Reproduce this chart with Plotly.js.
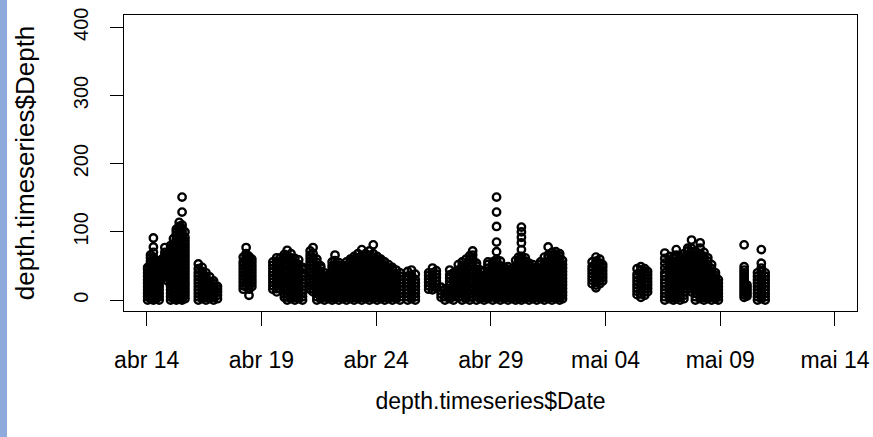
<!DOCTYPE html>
<html>
<head>
<meta charset="utf-8">
<script src="https://cdn.plot.ly/plotly-3.0.1.min.js"></script>
<style>
  html, body { margin: 0; padding: 0; background: #ffffff; }
  #chart { width: 873px; height: 437px; }
</style>
</head>
<body>
<div id="chart"></div>
<script>
// Sample times (one per column of readings) and the depths recorded at each
const sampleTimes = [
  "2020-04-14 01:00","2020-04-14 04:00","2020-04-14 07:00","2020-04-14 10:00","2020-04-14 13:00","2020-04-14 16:00",
  "2020-04-14 19:00","2020-04-14 22:00","2020-04-15 01:00","2020-04-15 04:00","2020-04-15 07:00","2020-04-15 10:00","2020-04-15 13:00","2020-04-15 16:00",
  "2020-04-16 06:00","2020-04-16 10:00","2020-04-16 14:00","2020-04-16 18:00","2020-04-16 22:00","2020-04-17 02:00",
  "2020-04-18 05:00","2020-04-18 08:00","2020-04-18 11:00","2020-04-18 14:00",
  "2020-04-19 12:00","2020-04-19 16:00","2020-04-19 20:00","2020-04-20 00:00","2020-04-20 03:00","2020-04-20 07:00","2020-04-20 11:00","2020-04-20 15:00","2020-04-20 19:00",
  "2020-04-21 03:00","2020-04-21 06:00","2020-04-21 10:00","2020-04-21 14:00","2020-04-21 18:00","2020-04-21 22:00",
  "2020-04-22 02:00","2020-04-22 05:00","2020-04-22 09:00","2020-04-22 13:00",
  "2020-04-22 17:00","2020-04-22 21:00","2020-04-23 01:00","2020-04-23 05:00","2020-04-23 09:00","2020-04-23 13:00","2020-04-23 17:00","2020-04-23 21:00",
  "2020-04-24 01:00","2020-04-24 05:00","2020-04-24 09:00","2020-04-24 13:00","2020-04-24 17:00","2020-04-24 21:00","2020-04-25 01:00",
  "2020-04-25 09:00","2020-04-25 13:00","2020-04-25 17:00",
  "2020-04-26 07:00","2020-04-26 11:00","2020-04-26 15:00",
  "2020-04-26 20:00","2020-04-27 00:00",
  "2020-04-27 05:00","2020-04-27 09:00",
  "2020-04-27 14:00","2020-04-27 18:00","2020-04-27 22:00","2020-04-28 02:00","2020-04-28 05:00","2020-04-28 09:00",
  "2020-04-28 13:00","2020-04-28 17:00",
  "2020-04-28 21:00","2020-04-29 02:00","2020-04-29 06:00","2020-04-29 10:00","2020-04-29 14:00","2020-04-29 18:00","2020-04-29 22:00",
  "2020-04-30 02:00","2020-04-30 05:00","2020-04-30 08:00","2020-04-30 12:00","2020-04-30 16:00","2020-04-30 20:00",
  "2020-05-01 00:00","2020-05-01 04:00","2020-05-01 08:00","2020-05-01 12:00","2020-05-01 16:00","2020-05-01 20:00","2020-05-02 00:00","2020-05-02 03:00",
  "2020-05-03 10:00","2020-05-03 14:00","2020-05-03 18:00","2020-05-03 21:00",
  "2020-05-05 09:00","2020-05-05 13:00","2020-05-05 17:00","2020-05-05 20:00",
  "2020-05-06 14:00","2020-05-06 19:00","2020-05-06 23:00","2020-05-07 02:00","2020-05-07 06:00","2020-05-07 10:00","2020-05-07 14:00","2020-05-07 18:00","2020-05-07 22:00",
  "2020-05-08 03:00","2020-05-08 07:00","2020-05-08 11:00","2020-05-08 15:00","2020-05-08 19:00","2020-05-08 22:00",
  "2020-05-10 01:00","2020-05-10 04:00",
  "2020-05-10 15:00","2020-05-10 19:00","2020-05-10 23:00"
];

const sampleDepths = [
  // abr 14
  [0,5,10,15,20,25,30,35,40,45,48],
  [2,7,12,17,22,27,32,37,42,47,52,57,62,66],
  [0,5,10,15,20,25,30,35,40,45,50,55,60,63,70,78,91],
  [2,7,12,17,22,27,32,37,42,47,52,58],
  [0,5,10,15,20,25,30,35,40,45,50,55],
  [36,41,46,51,56,60],
  // abr 14-15
  [40,45,50,55,60,65,70,77],
  [28,33,38,43,48,53,58,63,68],
  [0,5,10,15,20,25,30,35,40,45,50,55,60,65,70,75,80],
  [2,7,12,17,22,27,32,37,42,47,52,57,62,67,72,77,82,90],
  [0,5,10,15,20,25,30,35,40,45,50,55,60,65,70,75,80,85,90,95,100,104],
  [2,7,12,17,22,27,32,37,42,47,52,57,62,67,72,77,82,87,92,97,102,108,114],
  [0,5,10,15,20,25,30,35,40,45,50,55,60,65,70,75,80,85,90,95,100,105,110,129,151],
  [2,7,12,17,22,27,32,37,42,47,52,57,62,67,72,77,82,87,92,100],
  // abr 16-17
  [0,5,10,15,20,25,30,35,40,46,53],
  [2,7,12,17,22,27,32,37,42,48],
  [0,5,10,15,20,25,30,35,40],
  [2,7,12,17,22,27,34],
  [0,5,10,15,20,24,28],
  [2,7,12,16,20],
  // abr 18
  [16,21,26,31,36,41,46,51,56,63],
  [20,25,30,35,40,45,50,55,60,65,68,77],
  [7,16,21,26,31,36,41,46,51,56,61,64],
  [20,25,30,35,40,45,50,55,60],
  // abr 19-20
  [16,21,26,31,36,41,46,51,56],
  [12,17,22,27,32,37,42,47,52,57,62],
  [16,21,26,31,36,41,46,51,56,62],
  [4,9,14,19,24,29,34,39,44,49,54,59,63,67],
  [0,5,10,15,20,25,30,35,40,45,50,55,60,64,73],
  [2,7,12,17,22,27,32,37,42,47,52,57,62,68],
  [0,5,10,15,20,25,30,35,40,45,50,55,61],
  [2,7,12,17,22,27,32,37,42,47,52,59],
  [0,5,10,15,20,25,30,35,40,45,48],
  // abr 21
  [16,21,26,31,36,41,46,51,56,61,66,72],
  [12,17,22,27,32,37,42,47,52,57,62,68,77],
  [0,5,10,15,20,25,30,35,40,45,50,55,60],
  [2,7,12,17,22,27,32,37,42,47,50],
  [0,5,10,15,20,25,30,35,40],
  [2,7,12,17,22,27,32,36],
  // abr 22
  [0,5,10,15,20,25,30,35,40,45,50,56],
  [2,7,12,17,22,27,32,37,42,47,52,58,66],
  [0,5,10,15,20,25,30,35,40,45,50,55],
  [2,7,12,17,22,27,32,37,42,47,51],
  // abr 22-23
  [0,5,10,15,20,25,30,35,40,45,50,56],
  [2,7,12,17,22,27,32,37,42,47,52,57,60],
  [0,5,10,15,20,25,30,35,40,45,50,55,60,64],
  [2,7,12,17,22,27,32,37,42,47,52,57,62,68],
  [0,5,10,15,20,25,30,35,40,45,50,55,60,65,74],
  [2,7,12,17,22,27,32,37,42,47,52,57,62,68],
  [0,5,10,15,20,25,30,35,40,45,50,55,60,65,72],
  [2,7,12,17,22,27,32,37,42,47,52,57,62,68,81],
  // abr 24-25
  [0,5,10,15,20,25,30,35,40,45,50,55,60,64],
  [2,7,12,17,22,27,32,37,42,47,52,57,60],
  [0,5,10,15,20,25,30,35,40,45,50,56],
  [2,7,12,17,22,27,32,37,42,47,52],
  [0,5,10,15,20,25,30,35,40,45,48],
  [2,7,12,17,22,27,32,37,44],
  [0,5,10,15,20,25,30,35,40],
  // abr 25
  [0,5,10,15,20,25,30,35,42],
  [2,7,12,17,22,27,32,37,44],
  [0,5,10,15,20,25,30,38],
  // abr 26
  [16,21,26,31,36,40],
  [15,20,25,30,35,40,47],
  [18,23,28,33,38,43],
  [4,9,14,19],
  [0,5,10,16],
  // abr 27
  [2,7,12,17,22,27,32,37,44],
  [0,5,10,15,20,25,30,35,40],
  [4,9,14,19,24,29,34,39,44,52],
  [0,5,10,15,20,25,30,35,40,45,50,56],
  [2,7,12,17,22,27,32,37,42,47,52,60],
  [0,5,10,15,20,25,30,35,40,45,50,55,60,65],
  [4,9,14,19,24,29,34,39,44,49,54,60,66,72],
  [0,5,10,15,20,25,30,35,40,45,50,54],
  // abr 28
  [2,7,12,17,22,27,32,37,44],
  [0,5,10,15,20,25,30,35,42],
  // abr 28-29
  [2,7,12,17,22,27,32,37,42,47,52,56],
  [0,5,10,15,20,25,30,35,40,45,50,56],
  [2,7,12,17,22,27,32,37,42,47,52,57,60,71,85,108,129,151],
  [0,5,10,15,20,25,30,35,40,45,50,57],
  [2,7,12,17,22,27,32,37,42,48],
  [0,5,10,15,20,25,30,35,40,45,49],
  [2,7,12,17,22,27,32,37,44],
  // abr 30
  [0,5,10,15,20,25,30,35,40,45,50,58],
  [2,7,12,17,22,27,32,37,42,47,52,57,63],
  [0,5,10,15,20,25,30,35,40,45,50,55,60,64,74,84,92,100,107],
  [2,7,12,17,22,27,32,37,42,47,52,57,62],
  [0,5,10,15,20,25,30,35,40,45,50,54],
  [2,7,12,17,22,27,32,37,42,47,52],
  // mai 01-02
  [0,5,10,15,20,25,30,35,40,45,48],
  [2,7,12,17,22,27,32,37,42,47,52,56],
  [0,5,10,15,20,25,30,35,40,45,50,55,63],
  [2,7,12,17,22,27,32,37,42,47,52,57,62,66,78],
  [0,5,10,15,20,25,30,35,40,45,50,55,60,65,70],
  [2,7,12,17,22,27,32,37,42,47,52,57,62,67,71],
  [0,5,10,15,20,25,30,35,40,45,50,55,60,64,68],
  [2,7,12,17,22,27,32,37,42,47,52,58],
  // mai 03
  [24,29,34,39,44,49,56],
  [18,22,27,32,37,42,47,52,57,63],
  [24,29,34,39,44,49,54,60],
  [28,33,38,43,48,52],
  // mai 05
  [8,13,18,23,28,33,38,46],
  [4,9,14,19,24,29,34,39,44,49],
  [7,12,17,22,27,32,37,41,46],
  [12,17,22,27,32,37,42],
  // mai 06-07
  [0,5,10,15,20,25,30,35,40,47,54,61,69],
  [2,7,12,17,22,27,32,37,42,47,52,58,64],
  [0,5,10,15,20,25,30,35,40,45,50,56,62],
  [2,7,12,17,22,27,32,37,42,47,52,57,62,66,74],
  [0,5,10,15,20,25,30,35,40,45,50,55,60,64],
  [2,7,12,17,22,27,32,37,42,47,52,57,62,68],
  [16,21,26,31,36,41,46,51,56,61,66,72,76],
  [12,17,22,27,32,37,42,47,52,57,62,68,76,88],
  [0,5,10,15,20,25,30,35,40,45,50,55,60,65,72],
  // mai 08
  [2,7,12,17,22,27,32,37,42,47,52,57,62,68,76,84],
  [0,5,10,15,20,25,30,35,40,45,50,55,60,64,70],
  [2,7,12,17,22,27,32,37,42,47,52,57,62],
  [0,5,10,15,20,25,30,35,40,46,52],
  [2,7,12,17,22,27,32,36,40],
  [0,5,10,15,20,25,30],
  // mai 10
  [4,8,12,16,20,24,28,32,36,40,44,49,81],
  [6,10,14,18,22],
  [0,5,10,15,20,25,30,35,40],
  [2,7,12,17,22,27,32,37,42,47,54,74],
  [0,5,10,15,20,25,30,35,40]
];

const xTickValues = ["2020-04-14","2020-04-19","2020-04-24","2020-04-29","2020-05-04","2020-05-09","2020-05-14"];
const xTickLabels = ["abr 14","abr 19","abr 24","abr 29","mai 04","mai 09","mai 14"];
const yTickValues = [0, 100, 200, 300, 400];

// flatten columns into point lists
const xs = [], ys = [];
sampleTimes.forEach((t, i) => {
  sampleDepths[i].forEach(d => { xs.push(t); ys.push(d); });
});

const trace = {
  type: "scatter",
  mode: "markers",
  x: xs,
  y: ys,
  marker: {
    symbol: "circle-open",
    size: 7.4,
    color: "#000000",
    line: { width: 2.4, color: "#000000" }
  },
  hoverinfo: "x+y"
};

const fontFam = "'Liberation Sans', Arial, sans-serif";

const layout = {
  width: 873,
  height: 437,
  margin: { l: 124, r: 16, t: 15, b: 126 },
  paper_bgcolor: "#ffffff",
  plot_bgcolor: "#ffffff",
  showlegend: false,
  xaxis: {
    type: "date",
    range: ["2020-04-13 00:15", "2020-05-14 23:05"],
    tickmode: "array",
    tickvals: xTickValues,
    ticktext: xTickLabels,
    ticks: "outside",
    ticklen: 14,
    tickwidth: 1,
    tickcolor: "#000000",
    ticklabelstandoff: 14,
    showline: true,
    mirror: true,
    linecolor: "#000000",
    linewidth: 1,
    showgrid: false,
    zeroline: false,
    tickfont: { family: fontFam, size: 23, color: "#000000" },
    title: {
      text: "depth.timeseries$Date",
      font: { family: fontFam, size: 23, color: "#000000" },
      standoff: 21
    }
  },
  yaxis: {
    range: [-16, 418],
    tickmode: "array",
    tickvals: yTickValues,
    ticks: "outside",
    ticklen: 13,
    tickwidth: 1,
    tickcolor: "#000000",
    tickangle: -90,
    ticklabelstandoff: 14,
    showline: true,
    mirror: true,
    linecolor: "#000000",
    linewidth: 1,
    showgrid: false,
    zeroline: false,
    tickfont: { family: fontFam, size: 20, color: "#000000" },
    title: {
      text: "depth.timeseries$Depth",
      font: { family: fontFam, size: 26, color: "#000000" },
      standoff: 27
    }
  },
  shapes: [{
    type: "rect",
    xref: "paper", yref: "paper",
    x0: -0.17, x1: -0.1596,
    y0: -0.5, y1: 1.1,
    fillcolor: "#8EA9DB",
    line: { width: 0 },
    layer: "below"
  }]
};

Plotly.newPlot("chart", [trace], layout, { displayModeBar: false, staticPlot: true });
</script>
</body>
</html>
